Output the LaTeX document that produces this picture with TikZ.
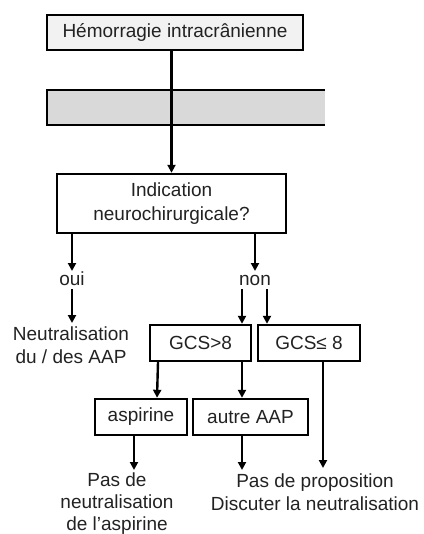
\documentclass[tikz,border=0pt]{standalone}
\usepackage{fontspec}
\setmainfont{Liberation Sans}
\usetikzlibrary{arrows.meta,calc}
\definecolor{topfill}{HTML}{F2F2F2}
\definecolor{bandfill}{HTML}{D9D9D9}
\definecolor{txt}{HTML}{222222}
\begin{document}
\begin{tikzpicture}[x=1pt,y=1pt,
  font=\fontsize{19}{23}\selectfont,
  box/.style={draw=black, line width=2.4pt, inner sep=0pt, text=txt, align=center},
  lbl/.style={inner sep=0pt, text=txt, align=center, anchor=north},
  arr/.style={line width=2.4pt, -{Triangle[length=8pt,width=8pt]}}]
\useasboundingbox (0,0) rectangle (423,-534);
% boxes
\node[box, fill=topfill, minimum width=256, minimum height=35] (top) at (175,-32.5) {Hémorragie intracrânienne};
\node[fill=bandfill, inner sep=0pt, minimum width=278, minimum height=35] (band) at (186,-107.5) {};
\draw[line width=2.4pt] (band.north east) -- (band.north west) -- (band.south west) -- (band.south east);
\node[box, fill=white, minimum width=229, minimum height=59] (ind) at (171.5,-203.5) {Indication\\[1pt]neurochirurgicale?};
\node[lbl, text height=14pt, text depth=4pt] (oui) at (72,-271) {oui};
\node[lbl, text height=14pt, text depth=4pt] (non) at (255,-271) {non};
\node[lbl] (neut) at (71,-327) {Neutralisation\\du / des AAP};
\node[box, minimum width=101, minimum height=36] (g1) at (200.5,-343) {GCS>8};
\node[box, minimum width=102, minimum height=36] (g2) at (309,-343) {GCS≤ 8};
\node[box, minimum width=92, minimum height=36] (asp) at (141,-417) {aspirine};
\node[box, minimum width=115, minimum height=36] (autre) at (250.5,-417) {autre AAP};
\node[lbl, font=\fontsize{19}{22}\selectfont] (pas1) at (117,-473) {Pas de\\neutralisation\\de l’aspirine};
\node[lbl] (pas2) at (315,-474) {Pas de proposition\\Discuter la neutralisation};
% connectors
\draw[arr] (ind.north |- top.south) -- (ind.north);
\draw[arr] (oui.north |- ind.south) -- (oui.north);
\draw[arr] (non.north |- ind.south) -- (non.north);
\draw[arr] (oui.south) -- ($(neut.north)+(1,4)$);
\draw[arr] ($(non.south)+(-13,0)$) -- ($(g1.north)+(41.5,0)$);
\draw[arr] ($(non.south)+(12,0)$) -- ($(g2.north)+(-42,0)$);
\draw[arr] ($(g1.south)+(-42.5,0)$) -- ($(asp.north)+(16,0)$);
\draw[arr] ($(g1.south)+(41.5,0)$) -- ($(autre.north)+(-8.5,0)$);
\draw[arr] ($(asp.south)+(-7,0)$) -- ($(pas1.north)+(17,3)$);
\draw[arr] ($(autre.south)+(-8.5,0)$) -- ($(pas2.north)+(-73,4)$);
\draw[arr] ($(g2.south)+(14,0)$) -- ($(pas2.north)+(8,6)$);
\end{tikzpicture}
\end{document}
